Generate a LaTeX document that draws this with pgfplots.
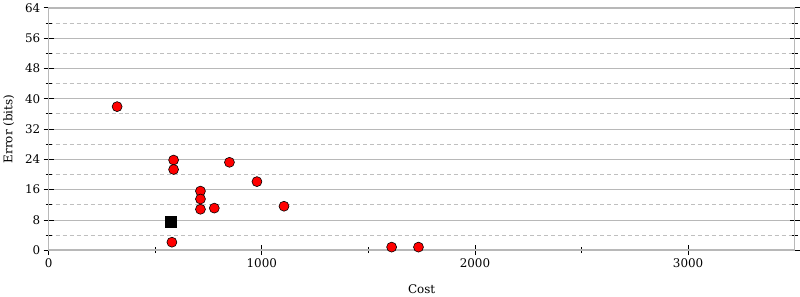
\documentclass[border=0pt]{standalone}
\usepackage{fontspec}
\setmainfont{DejaVu Serif}
\usepackage{pgfplots}
\pgfplotsset{compat=1.18}
\begin{document}
\begin{tikzpicture}
\begin{axis}[
  scale only axis,
  width=748bp, height=243bp,
  xmin=0, xmax=3500, ymin=0, ymax=64,
  xtick={0,1000,2000,3000},
  minor xtick={500,1500,2500},
  xtick pos=bottom,
  ytick={0,8,...,64},
  minor ytick={4,12,...,60},
  ymajorgrids, yminorgrids,
  major grid style={draw=black!28, line width=0.7pt},
  minor grid style={draw=black!25, dash pattern=on 4bp off 3bp, line width=0.7pt},
  axis line style={line width=1.5pt},
  x axis line style={draw=black!40},
  y axis line style={draw=black!28},
  tick style={draw=black, line width=0.7pt},
  major tick length=10bp,
  minor tick length=6bp,
  tick align=center,
  every tick label/.append style={font=\fontsize{12}{14}\selectfont},
  /pgf/number format/assume math mode=true,
  /pgf/number format/set thousands separator={},
  xlabel={Cost}, ylabel={Error (bits)},
  label style={font=\fontsize{12}{14}\selectfont},
  xlabel style={yshift=-10bp},
  ylabel style={yshift=4bp},
  clip=false,
]
\addplot[only marks, mark=*, mark size=5bp, mark options={fill=red, draw=black, line width=0.6pt}] coordinates {
(321,37.9) (586,23.8) (586,21.3) (848,23.2) (977,18.1)
(712,15.6) (712,13.5) (712,10.8) (777,11.1) (1104,11.6)
(578,2.1) (1609,0.8) (1735,0.8)
};
\addplot[only marks, mark=square*, mark size=5.5bp, mark options={fill=black, draw=black}] coordinates {
(574,7.5)
};
\end{axis}
\end{tikzpicture}
\end{document}
